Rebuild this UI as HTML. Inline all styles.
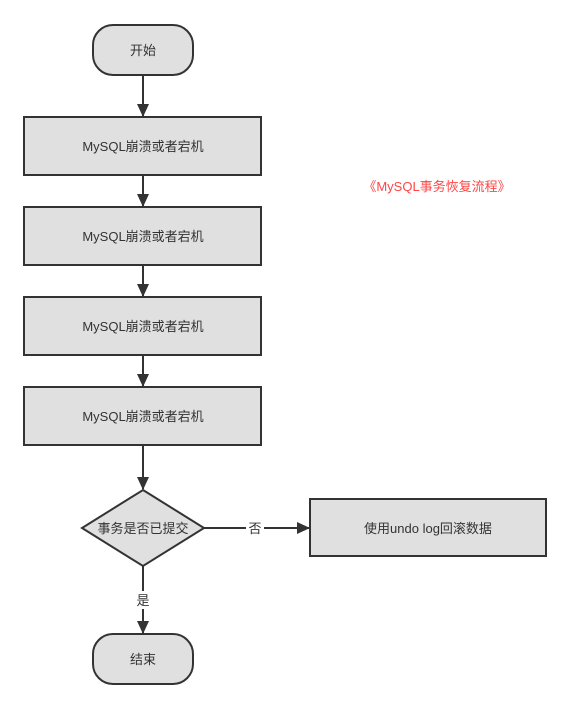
<!DOCTYPE html>
<html><head><meta charset="utf-8"><style>
html,body{margin:0;padding:0;background:#fff;width:571px;height:709px;overflow:hidden}
svg text{font-family:"Liberation Sans","Noto Sans CJK SC",sans-serif;font-size:13px;fill:#333}
</style></head><body>
<svg width="571" height="709" viewBox="0 0 571 709" xmlns="http://www.w3.org/2000/svg">
<defs><marker id="a" markerWidth="13" markerHeight="12" refX="12" refY="6" orient="auto" markerUnits="userSpaceOnUse"><path d="M0,0 L13,6 L0,12 z" fill="#333"/></marker></defs>
<g stroke="#333" stroke-width="2" fill="#e0e0e0">
<rect x="93" y="25" width="100" height="50" rx="20"/>
<rect x="24" y="117" width="237" height="58"/>
<rect x="24" y="207" width="237" height="58"/>
<rect x="24" y="297" width="237" height="58"/>
<rect x="24" y="387" width="237" height="58"/>
<polygon points="143,490 204,528 143,566 82,528"/>
<rect x="310" y="499" width="236" height="57"/>
<rect x="93" y="634" width="100" height="50" rx="20"/>
</g>
<g stroke="#333" stroke-width="2" fill="none">
<line x1="143" y1="75" x2="143" y2="116" marker-end="url(#a)"/>
<line x1="143" y1="175" x2="143" y2="206" marker-end="url(#a)"/>
<line x1="143" y1="265" x2="143" y2="296" marker-end="url(#a)"/>
<line x1="143" y1="355" x2="143" y2="386" marker-end="url(#a)"/>
<line x1="143" y1="445" x2="143" y2="489" marker-end="url(#a)"/>
<line x1="204" y1="528" x2="309" y2="528" marker-end="url(#a)"/>
<line x1="143" y1="566" x2="143" y2="633" marker-end="url(#a)"/>
</g>
<rect x="246" y="519" width="18" height="18" fill="#fff"/>
<rect x="134" y="591" width="18" height="18" fill="#fff"/>
<g text-anchor="middle">
<text x="143" y="55">开始</text>
<text x="143" y="151">MySQL崩溃或者宕机</text>
<text x="143" y="241">MySQL崩溃或者宕机</text>
<text x="143" y="331">MySQL崩溃或者宕机</text>
<text x="143" y="421">MySQL崩溃或者宕机</text>
<text x="143" y="533">事务是否已提交</text>
<text x="255" y="533">否</text>
<text x="143" y="605">是</text>
<text x="428" y="533">使用undo log回滚数据</text>
<text x="143" y="664">结束</text>
<text x="437" y="191" style="fill:#f44">《MySQL事务恢复流程》</text>
</g>
</svg>
</body></html>
